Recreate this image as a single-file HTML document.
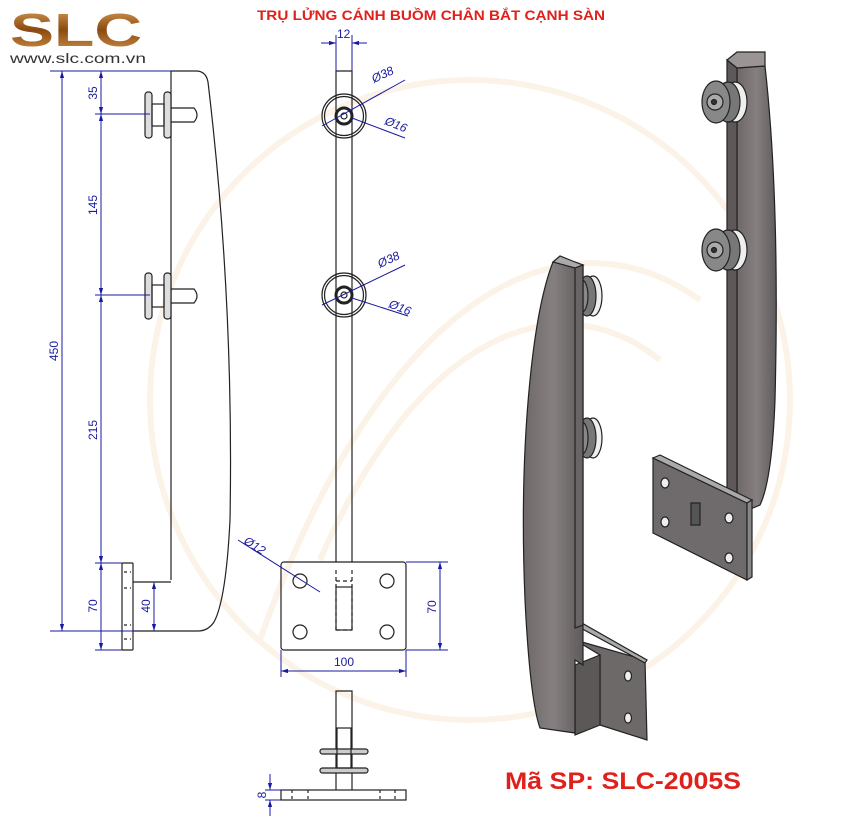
<!DOCTYPE html>
<html><head><meta charset="utf-8"><style>
html,body{margin:0;padding:0;background:#fff;}
svg{display:block;font-family:"Liberation Sans",sans-serif;}
</style></head><body>
<svg width="860" height="816" viewBox="0 0 860 816" xmlns="http://www.w3.org/2000/svg">
<defs>
<linearGradient id="gold" x1="0" y1="0" x2="0" y2="1"><stop offset="0" stop-color="#e0a860"/><stop offset="0.5" stop-color="#8a4a10"/><stop offset="1" stop-color="#d79a50"/></linearGradient>
<linearGradient id="steel" x1="0" y1="0" x2="1" y2="0"><stop offset="0" stop-color="#6e6868"/><stop offset="0.5" stop-color="#857f80"/><stop offset="1" stop-color="#5f5a5b"/></linearGradient>
<marker id="ar" viewBox="0 0 10 10" refX="10" refY="5" markerWidth="7" markerHeight="7" orient="auto-start-reverse"><path d="M0,2 L10,5 L0,8 z" fill="#1a1aa0"/></marker>
</defs>
<!-- watermark -->
<g fill="none" stroke="#fcf3e8" stroke-width="6">
<circle cx="470" cy="400" r="320"/>
<path d="M260,640 C380,300 560,200 700,300"/>
<path d="M320,560 C420,330 560,280 660,360"/>
</g>
<!-- logo -->
<text x="10" y="46" font-size="46" font-weight="bold" fill="url(#gold)" textLength="132" lengthAdjust="spacingAndGlyphs">SLC</text>
<text x="10" y="63" font-size="13.5" fill="#333" textLength="136" lengthAdjust="spacingAndGlyphs">www.slc.com.vn</text>
<!-- title -->
<text x="257" y="20" font-size="14" font-weight="bold" fill="#e0201a" textLength="348" lengthAdjust="spacingAndGlyphs">TRỤ LỬNG CÁNH BUỒM CHÂN BẮT CẠNH SÀN</text>
<text x="505" y="789" font-size="24" font-weight="bold" fill="#e0201a" textLength="236" lengthAdjust="spacingAndGlyphs">Mã SP: SLC-2005S</text>

<!-- LEFT VIEW -->
<g fill="none" stroke="#222" stroke-width="1.2">
<path d="M171,580 L171,71 L196,71 Q206,71 208,82 Q234,300 230,520 Q226,600 214,622 Q208,631 198,631 L133,631"/>
<path d="M171,582 L133,582"/>
<rect x="122" y="563" width="11" height="87" rx="1"/>
<g stroke-dasharray="3,3"><line x1="124" y1="572" x2="131" y2="572"/><line x1="124" y1="588" x2="131" y2="588"/><line x1="124" y1="625" x2="131" y2="625"/><line x1="124" y1="639" x2="131" y2="639"/></g>
<g id="fit">
<rect x="145" y="92" width="7" height="46" rx="3" fill="#ddd"/>
<rect x="164" y="92" width="7" height="46" rx="3" fill="#ddd"/>
<rect x="152" y="104" width="12" height="22"/>
<path d="M171,108 L194,108 Q200,115 194,122 L171,122"/>
</g>
<use href="#fit" transform="translate(0,181)"/>
</g>
<g stroke="#1a1aa0" stroke-width="1" fill="none">
<line x1="50" y1="71" x2="171" y2="71"/><line x1="50" y1="631" x2="135" y2="631"/>
<line x1="62" y1="71" x2="62" y2="631" marker-start="url(#ar)" marker-end="url(#ar)"/>
<line x1="95" y1="114" x2="150" y2="114"/><line x1="95" y1="295" x2="150" y2="295"/>
<line x1="95" y1="563" x2="122" y2="563"/><line x1="95" y1="650" x2="122" y2="650"/>
<line x1="101" y1="71" x2="101" y2="114" marker-start="url(#ar)" marker-end="url(#ar)"/>
<line x1="101" y1="114" x2="101" y2="295" marker-start="url(#ar)" marker-end="url(#ar)"/>
<line x1="101" y1="295" x2="101" y2="563" marker-start="url(#ar)" marker-end="url(#ar)"/>
<line x1="101" y1="563" x2="101" y2="650" marker-start="url(#ar)" marker-end="url(#ar)"/>
<line x1="154" y1="582" x2="154" y2="631" marker-start="url(#ar)" marker-end="url(#ar)"/>
</g>
<g fill="#1a1aa0" font-size="12">
<text transform="translate(58,351) rotate(-90)" text-anchor="middle">450</text>
<text transform="translate(97,93) rotate(-90)" text-anchor="middle">35</text>
<text transform="translate(97,205) rotate(-90)" text-anchor="middle">145</text>
<text transform="translate(97,430) rotate(-90)" text-anchor="middle">215</text>
<text transform="translate(97,606) rotate(-90)" text-anchor="middle">70</text>
<text transform="translate(150,606) rotate(-90)" text-anchor="middle">40</text>
</g>

<!-- MIDDLE VIEW -->
<g fill="none" stroke="#222" stroke-width="1.2">
<path d="M336,562 L336,71 L352,71 L352,562"/>
<g id="ring">
<circle cx="344" cy="116" r="22"/><circle cx="344" cy="116" r="19.5"/>
<circle cx="344" cy="116" r="8" stroke-width="3"/><circle cx="344" cy="116" r="3"/>
</g>
<use href="#ring" transform="translate(0,179)"/>
<rect x="281" y="562" width="125" height="88" rx="3"/>
<circle cx="300" cy="581" r="7"/><circle cx="387" cy="581" r="7"/>
<circle cx="300" cy="632" r="7"/><circle cx="387" cy="632" r="7"/>
<rect x="336" y="587" width="16" height="43"/>
<g stroke-dasharray="4,3"><line x1="336" y1="570" x2="336" y2="632"/><line x1="352" y1="570" x2="352" y2="632"/><line x1="336" y1="581" x2="352" y2="581"/><line x1="336" y1="630" x2="352" y2="630"/></g>
<!-- bottom view -->
<path d="M336,790 L336,691 L352,691 L352,790"/>
<rect x="320" y="749" width="48" height="5" rx="2.5" fill="#ccc"/>
<rect x="320" y="768" width="48" height="5" rx="2.5" fill="#ccc"/>
<rect x="337" y="728" width="14" height="40"/>
<rect x="281" y="790" width="125" height="10"/>
<g stroke-dasharray="3,3"><line x1="292" y1="790" x2="292" y2="800"/><line x1="308" y1="790" x2="308" y2="800"/><line x1="380" y1="790" x2="380" y2="800"/><line x1="395" y1="790" x2="395" y2="800"/></g>
</g>
<g stroke="#1a1aa0" stroke-width="1" fill="none">
<line x1="336" y1="35" x2="336" y2="71"/><line x1="352" y1="35" x2="352" y2="71"/>
<line x1="321" y1="43" x2="336" y2="43" marker-end="url(#ar)"/><line x1="367" y1="43" x2="352" y2="43" marker-end="url(#ar)"/>
<line x1="322" y1="126" x2="405" y2="80"/><line x1="352" y1="118" x2="405" y2="138"/>
<line x1="322" y1="305" x2="405" y2="265"/><line x1="352" y1="298" x2="408" y2="316"/>
<line x1="238" y1="540" x2="320" y2="592"/>
<line x1="406" y1="562" x2="448" y2="562"/><line x1="406" y1="650" x2="448" y2="650"/>
<line x1="440" y1="562" x2="440" y2="650" marker-start="url(#ar)" marker-end="url(#ar)"/>
<line x1="281" y1="650" x2="281" y2="677"/><line x1="406" y1="650" x2="406" y2="677"/>
<line x1="281" y1="671" x2="406" y2="671" marker-start="url(#ar)" marker-end="url(#ar)"/>
<line x1="265" y1="790" x2="281" y2="790"/><line x1="265" y1="800" x2="281" y2="800"/>
<line x1="270" y1="774" x2="270" y2="790" marker-end="url(#ar)"/><line x1="270" y1="816" x2="270" y2="800" marker-end="url(#ar)"/>
</g>
<g fill="#1a1aa0" font-size="12" font-style="italic">
<text x="337" y="38" font-style="normal">12</text>
<text transform="translate(374,83) rotate(-25)">Ø38</text>
<text transform="translate(384,124) rotate(22)">Ø16</text>
<text transform="translate(380,268) rotate(-25)">Ø38</text>
<text transform="translate(388,307) rotate(22)">Ø16</text>
<text transform="translate(243,543) rotate(32)">Ø12</text>
<text transform="translate(436,607) rotate(-90)" text-anchor="middle" font-style="normal">70</text>
<text x="344" y="666" text-anchor="middle" font-style="normal">100</text>
<text transform="translate(266,795) rotate(-90)" text-anchor="middle" font-style="normal">8</text>
</g>

<!-- 3D BACK POST -->
<g stroke="#222" stroke-width="1.2">
<path d="M737,520 L737,68 L765,66 Q780,200 775,400 Q772,480 760,505 L748,510 Z" fill="url(#steel)"/>
<path d="M727,60 L737,68 L737,520 L727,515 Z" fill="#5e5858"/>
<path d="M727,60 L737,52 L765,52 L765,66 L737,68 Z" fill="#9a9494"/>
<path d="M653,458 L747,503 L747,580 L653,533 Z" fill="#6f6a6b"/>
<path d="M653,458 L660,455 L752,500 L747,503 Z" fill="#aaa"/>
<path d="M747,503 L752,500 L752,577 L747,580 Z" fill="#888"/>
<g fill="#eee"><ellipse cx="665" cy="483" rx="4" ry="5"/><ellipse cx="729" cy="518" rx="4" ry="5"/><ellipse cx="665" cy="522" rx="4" ry="5"/><ellipse cx="729" cy="558" rx="4" ry="5"/></g>
<rect x="691" y="503" width="9" height="22" fill="#555"/>
<g id="btn3d"><ellipse cx="735" cy="102" rx="12" ry="20" fill="#eee"/><ellipse cx="728" cy="102" rx="12" ry="20" fill="#777"/><ellipse cx="716" cy="102" rx="14" ry="21" fill="#888"/><circle cx="715" cy="102" r="8" fill="#aaa"/><circle cx="714" cy="102" r="2.5" fill="#333"/></g>
<use href="#btn3d" transform="translate(0,148)"/>
</g>

<!-- 3D FRONT POST -->
<g stroke="#222" stroke-width="1.2">
<g id="fb"><ellipse cx="593" cy="296" rx="9" ry="20" fill="#eee"/><ellipse cx="587" cy="296" rx="9" ry="20" fill="#777"/><ellipse cx="582" cy="296" rx="6" ry="16" fill="#888"/></g>
<use href="#fb" transform="translate(0,142)"/>
<path d="M575,640 L645,660 L647,740 L600,725 L600,655 Z" fill="#6e6969"/>
<path d="M575,625 L580,622 L647,660 L645,663 Z" fill="#aaa"/>
<path d="M575,665 L600,655 L600,725 L575,735 Z" fill="#5d5858"/>
<g fill="#eee"><ellipse cx="628" cy="676" rx="3.5" ry="5"/><ellipse cx="628" cy="718" rx="3.5" ry="5"/></g>
<path d="M553,262 Q538,300 530,380 Q520,480 525,600 Q530,700 540,728 L575,733 L575,660 L583,665 L583,265 L575,262 Z" fill="url(#steel)"/>
<path d="M553,262 L560,256 L575,262 L583,265 L575,268 Z" fill="#aaa"/>
<path d="M575,268 L583,265 L583,625 L575,628 Z" fill="#6a6465"/>
</g>
</svg>
</body></html>
